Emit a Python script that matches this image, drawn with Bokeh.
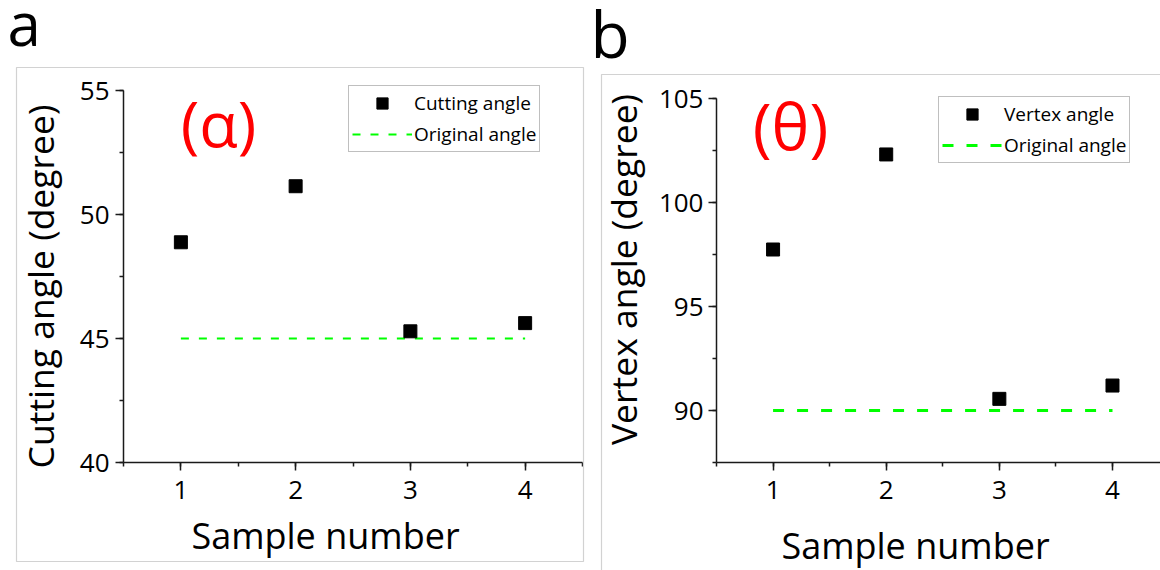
from math import pi
from bokeh.plotting import figure
from bokeh.layouts import row
from bokeh.models import (Range1d, SingleIntervalTicker, Legend, LegendItem,
                          Label, BoxAnnotation)
from bokeh.embed import file_html
from bokeh.resources import INLINE

# ---------------- data ----------------
samples = [1, 2, 3, 4]
cutting_angle = [48.88, 51.14, 45.29, 45.62]
vertex_angle = [97.74, 102.31, 90.56, 91.20]
original_cutting_angle = 45
original_vertex_angle = 90
x_bounds = (0.5, 4.5)
y_bounds_a = (40, 55)
y_bounds_b = (87.5, 105)
x_label = "Sample number"
y_label_a = "Cutting angle (degree)"
y_label_b = "Vertex angle (degree)"
series_a = "Cutting angle"
series_b = "Vertex angle"
series_orig = "Original angle"

# ---------------- style / layout ----------------
FONT = "Open Sans"
GREEN = "#00ff00"
AXIS_COLOR = "#1a1a1a"
BORDER_COLOR = "#d2d2d2"
H = 570


def ranges(W, xb, x_px, yb, y_px):
    """Data ranges so that the axis bounds land on the given canvas pixels
    (the plot frame spans the whole canvas)."""
    (x0, x1), (px0, px1) = xb, x_px
    sx = (px1 - px0) / (x1 - x0)
    (y0, y1), (py0, py1) = yb, y_px          # py measured from the top
    sy = (py0 - py1) / (y1 - y0)
    return ((x0 - px0 / sx, x0 + (W - px0) / sx),
            (y0 - (H - py0) / sy, y1 + py1 / sy))


def make_panel(W, x_px, y_bounds, y_px, ys, y0, series_name, ylabel,
               letter, greek, cfg):
    xr, yr = ranges(W, x_bounds, x_px, y_bounds, y_px)
    p = figure(width=W, height=H, output_backend="svg", toolbar_location=None,
               x_range=Range1d(*xr), y_range=Range1d(*yr),
               min_border=0, min_border_left=0, min_border_right=0,
               min_border_top=0, min_border_bottom=0)
    p.outline_line_color = None
    p.grid.visible = False
    p.background_fill_color = "white"
    p.border_fill_color = "white"

    p.xaxis.ticker = SingleIntervalTicker(interval=1, num_minor_ticks=2)
    p.yaxis.ticker = SingleIntervalTicker(interval=5, num_minor_ticks=2)
    p.xaxis.fixed_location = y_bounds[0]
    p.yaxis.fixed_location = x_bounds[0]
    p.xaxis.bounds = x_bounds
    p.yaxis.bounds = y_bounds
    for ax in (p.xaxis, p.yaxis):
        ax.axis_line_color = AXIS_COLOR
        ax.axis_line_width = 1.5
        ax.major_tick_line_color = AXIS_COLOR
        ax.major_tick_line_width = 1.5
        ax.minor_tick_line_color = AXIS_COLOR
        ax.minor_tick_line_width = 1.5
        ax.major_tick_in = 0
        ax.major_tick_out = 8
        ax.minor_tick_in = 0
        ax.minor_tick_out = 4
        ax.major_label_text_font = FONT
        ax.major_label_text_font_size = "26px"
        ax.major_label_text_color = "black"
    p.xaxis.major_label_standoff = 10
    p.yaxis.major_label_standoff = cfg["ystandoff"]

    r_line = p.line([samples[0], samples[-1]], [y0, y0], line_color=GREEN,
                    line_width=cfg["lw"], line_dash=cfg["dash"])
    r_pts = p.scatter(samples, ys, marker="square", size=13,
                      fill_color="black", line_color="black")

    # panel frame (light grey box)
    bl, bt, br, bb = cfg["box"]
    p.add_layout(BoxAnnotation(left=bl, right=br, top=H - bt, bottom=H - bb,
                               left_units="screen", right_units="screen",
                               top_units="screen", bottom_units="screen",
                               fill_alpha=0, line_color=BORDER_COLOR,
                               line_width=1.2, line_alpha=1))

    lgx, lgy = cfg["legend_bl"]
    legend = Legend(items=[LegendItem(label=series_name, renderers=[r_pts]),
                           LegendItem(label=series_orig, renderers=[r_line])],
                    location=(lgx, H - lgy))
    legend.border_line_color = "#808080"
    legend.border_line_width = 1
    legend.background_fill_color = "white"
    legend.background_fill_alpha = 1
    legend.padding = 3
    legend.spacing = 3
    legend.glyph_width = 60
    legend.glyph_height = 28
    legend.label_standoff = 2
    legend.label_text_font = FONT
    legend.label_text_font_size = "19px"
    legend.label_text_color = "black"
    legend.margin = 0
    p.add_layout(legend)

    def label(text, pos, size, color="black", align="left", baseline="alphabetic",
              angle=0):
        p.add_layout(Label(x=pos[0], y=H - pos[1], x_units="screen", y_units="screen",
                           text=text, angle=angle, text_font=FONT,
                           text_font_size=size, text_color=color,
                           text_align=align, text_baseline=baseline))

    label(letter, cfg["letter_pos"], cfg["letter_size"])
    label(greek, cfg["greek_pos"], cfg["greek_size"], color="#ff0000",
          align="center", baseline="middle")
    label(ylabel, cfg["ylabel_pos"], "35.5px", align="center", angle=pi / 2)
    label(x_label, cfg["xlabel_pos"], "36px", align="center")
    return p


cfg_a = dict(ystandoff=6, lw=2, dash="8 10", legend_bl=(348, 152),
             box=(16, 67, 583, 561), letter_pos=(7, 22), letter_size="60px",
             greek_pos=(218, 122), greek_size="63px",
             ylabel_pos=(39, 286), xlabel_pos=(325, 535))
cfg_b = dict(ystandoff=5, lw=3, dash="11 13", legend_bl=(348, 163),
             box=(11, 74, 580, 580), letter_pos=(0, 33), letter_size="64px",
             greek_pos=(200, 125), greek_size="64px",
             ylabel_pos=(32, 269), xlabel_pos=(325, 545))

pa = make_panel(590, (123, 582), y_bounds_a, (462, 90), cutting_angle,
                original_cutting_angle, series_a, y_label_a, "a", "(α)", cfg_a)
pb = make_panel(570, (126, 522 + 113.14 / 2), y_bounds_b, (462, 98), vertex_angle,
                original_vertex_angle, series_b, y_label_b, "b", "(θ)", cfg_b)

layout = row(pa, pb, spacing=0)
open("out.html", "w").write(file_html(layout, INLINE))
